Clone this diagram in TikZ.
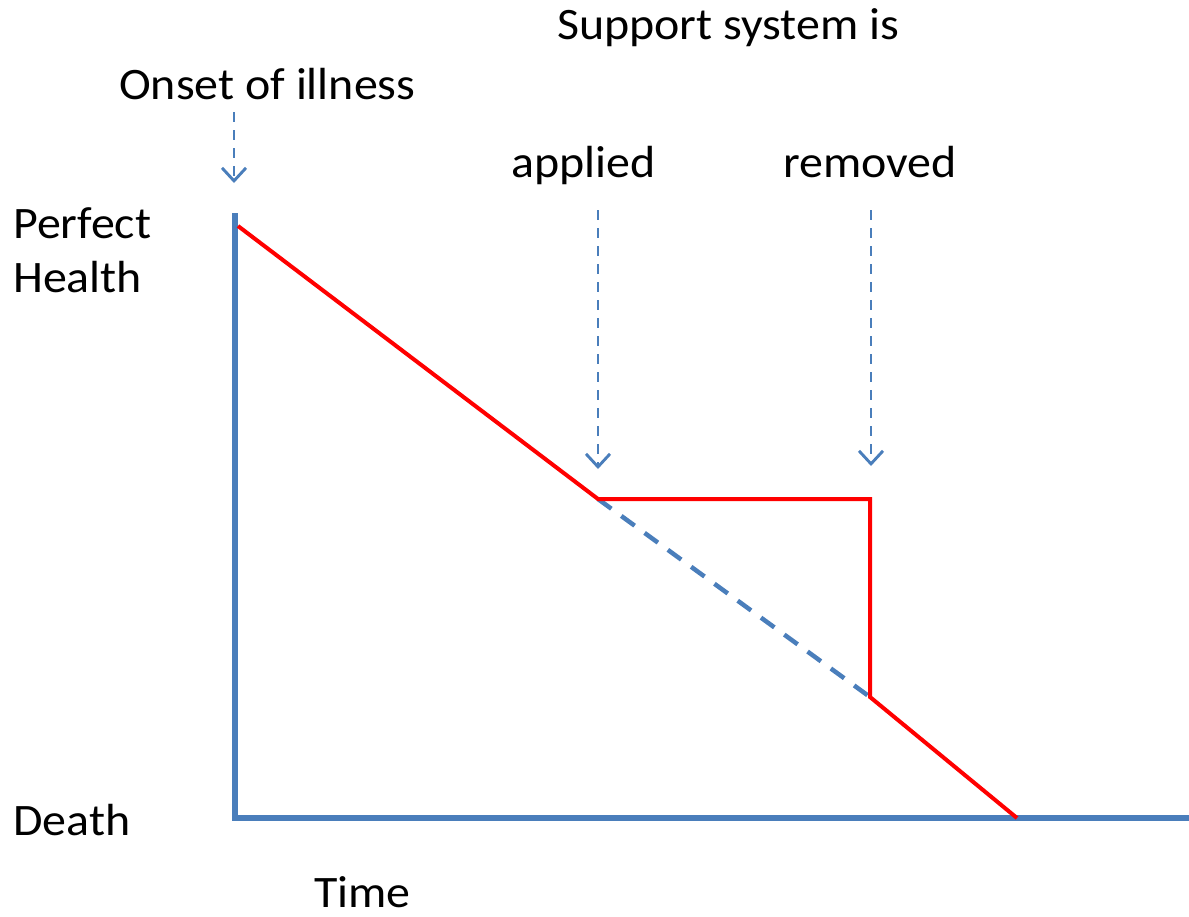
\documentclass[tikz,border=0pt]{standalone}
\usepackage{fontspec}
\setmainfont{Carlito}
\usetikzlibrary{arrows.meta}
\definecolor{axisblue}{RGB}{74,126,187}
\definecolor{hred}{RGB}{255,0,0}
\begin{document}
\begin{tikzpicture}[x=1pt,y=-1pt,
  lbl/.style={inner sep=0pt,font=\fontsize{45}{54}\selectfont,anchor=base west,transform shape,xscale=1.065},
  axis/.style={draw=axisblue,line width=6pt},
  curve/.style={draw=hred,line width=4pt},
  ptr/.style={draw=axisblue,line width=2.9pt,dash pattern=on 10pt off 8pt,-{Straight Barb[length=13pt,width=24pt,line width=2.9pt]}},
  projected/.style={draw=axisblue,line width=4.5pt,dash pattern=on 16.5pt off 12.3pt}]
\useasboundingbox (0,0) rectangle (1189,916);
% labels
\node[lbl] (support) at (557,39) {Support system is};
\node[lbl] (onset) at (119,99) {Onset of illness};
\node[lbl] (applied) at (511,177) {applied};
\node[lbl] (removed) at (783,177) {removed};
\node[lbl] (perfect) at (13,238) {Perfect};
\node[lbl] (health) at (13,292) {Health};
\node[lbl] (death) at (13,835) {Death};
\node[lbl] (time) at (314,907) {Time};
% coordinates
\coordinate (top) at (235,213);
\coordinate (origin) at (235,818);
\coordinate (xend) at (1189,818);
\coordinate (start) at (238,226);
\coordinate (apply) at (598,499);
\coordinate (hold) at (870,499);
\coordinate (drop) at (870,697);
\coordinate (dead) at (1017,818);
\coordinate (o1) at (234,112);
\coordinate (o2) at (234,183);
\coordinate (a1) at (598,210);
\coordinate (a2) at (598,469);
\coordinate (r1) at (871,210);
\coordinate (r2) at (871,466);
% axes
\draw[axis] (top) -- (origin) -- (xend);
% dashed projected decline
\draw[projected] (apply) -- (drop);
% health curve
\draw[curve,line join=miter] (start) -- (apply) -- (hold) -- (drop) -- (dead);
% pointers
\draw[ptr] (o1) -- (o2);
\draw[ptr] (a1) -- (a2);
\draw[ptr] (r1) -- (r2);
\end{tikzpicture}
\end{document}
